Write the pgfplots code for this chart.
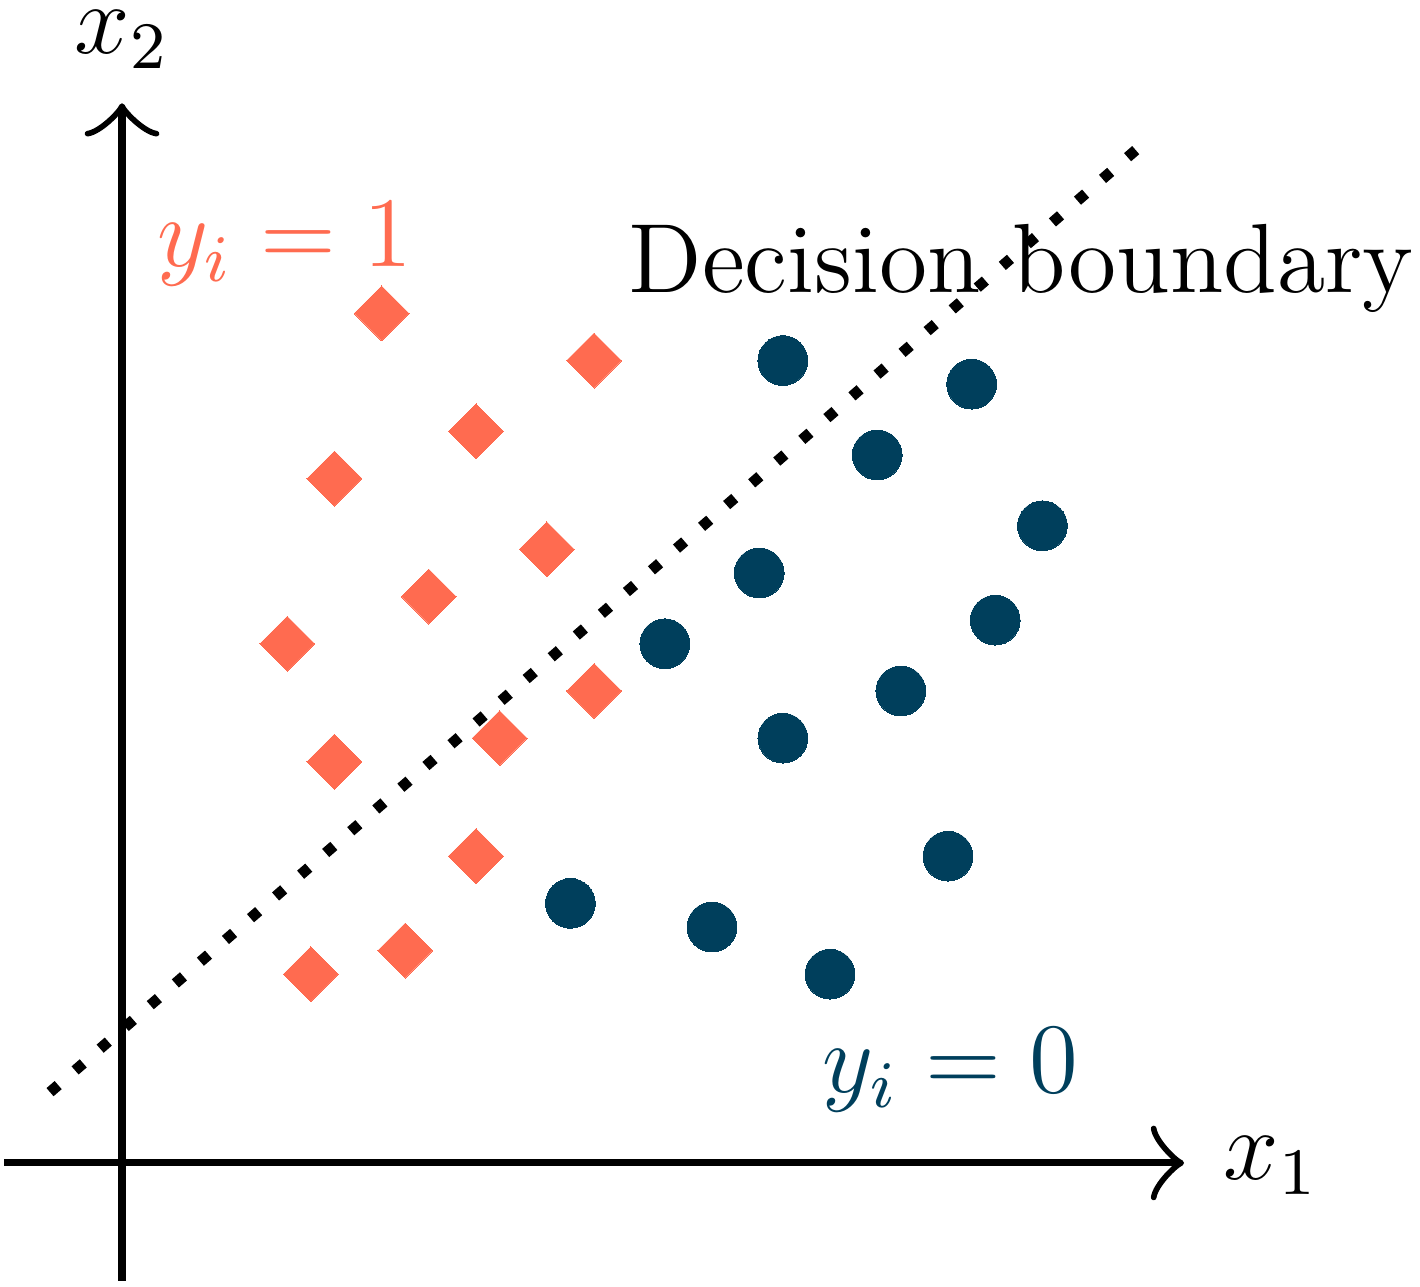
\documentclass[border=0pt]{standalone}
\usepackage{pgfplots}
\pgfplotsset{compat=1.18}
\usetikzlibrary{arrows.meta}
\definecolor{cOrange}{HTML}{FF6B50}
\definecolor{cBlue}{HTML}{003F5C}
\begin{document}
\begin{tikzpicture}
\begin{axis}[
  x=1cm, y=1cm,
  xmin=-0.5, xmax=4.5, ymin=-0.5, ymax=4.5,
  axis lines=none,
  clip=false,
]
% axes
\draw[line width=0.85pt, -{Classical TikZ Rightarrow[length=4pt,width=9pt]}] (axis cs:-0.5,0) -- (axis cs:4.5,0);
\draw[line width=0.85pt, -{Classical TikZ Rightarrow[length=4pt,width=9pt]}] (axis cs:0,-0.5) -- (axis cs:0,4.49);
% decision boundary
\addplot[black, line width=1.3pt, dash pattern=on 1.3pt off 2.7pt, no markers] coordinates {(-0.305,0.30) (4.305,4.30)};
% class 1
\addplot[only marks, color=cOrange, mark=square*, mark size=2.34pt, mark options={rotate=45, draw=cOrange, fill=cOrange, line width=0pt}] coordinates {
(1.1,3.6) (2.0,3.4) (1.5,3.1) (0.9,2.9) (1.8,2.6) (1.3,2.4) (0.7,2.2) (2.0,2.0) (1.6,1.8) (0.9,1.7) (1.5,1.3) (1.2,0.9) (0.8,0.8)};
% class 0
\addplot[only marks, color=cBlue, mark=*, mark size=3.0pt, mark options={draw=cBlue, fill=cBlue, line width=0pt}] coordinates {
(2.8,3.4) (3.6,3.3) (3.2,3.0) (3.9,2.7) (2.7,2.5) (3.7,2.3) (2.3,2.2) (3.3,2.0) (2.8,1.8) (3.5,1.3) (1.9,1.1) (2.5,1.0) (3.0,0.8)};
\node[anchor=base, inner sep=0pt, font=\fontsize{11.85}{14}\selectfont] at (axis cs:3.81,3.69) {Decision boundary};
\node[anchor=base, inner sep=0pt, font=\large, text=cOrange] at (axis cs:0.69,3.80) {$y_i = 1$};
\node[anchor=base, inner sep=0pt, font=\large, text=cBlue] at (axis cs:3.51,0.30) {$y_i = 0$};
\node[anchor=base, inner sep=0pt, font=\large] at (axis cs:0,4.70) {$x_2$};
\node[anchor=base, inner sep=0pt, font=\large] at (axis cs:4.87,-0.07) {$x_1$};
\coordinate (bl) at (axis cs:-0.517,-0.525);
\coordinate (tr) at (axis cs:5.50,4.928);
\end{axis}
\pgfresetboundingbox
\path[use as bounding box] (bl) rectangle (tr);
\end{tikzpicture}
\end{document}
